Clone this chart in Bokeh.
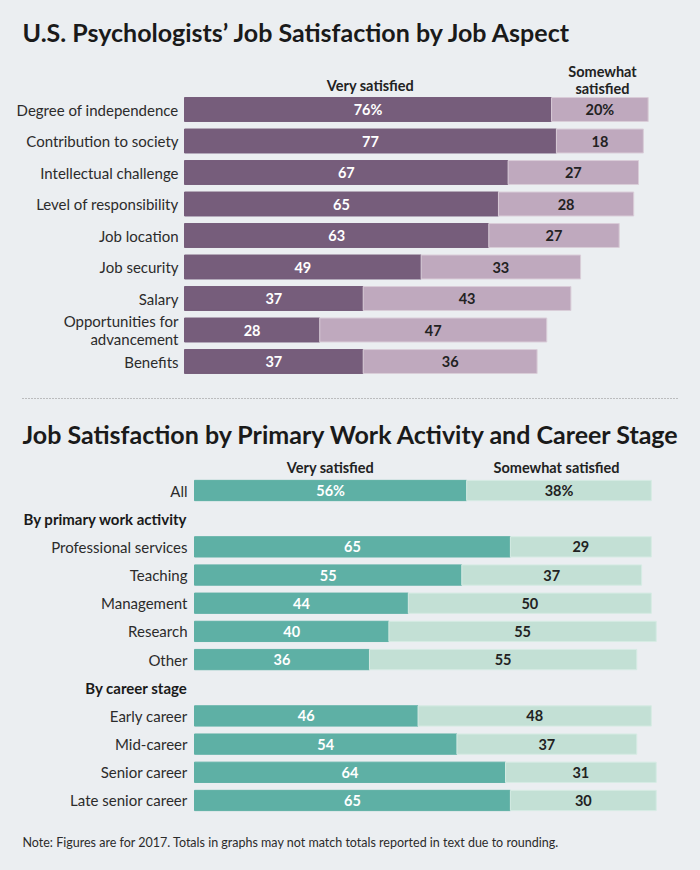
from bokeh.plotting import figure
from bokeh.layouts import column
from bokeh.models import ColumnDataSource, Label, Range1d, GlobalInlineStyleSheet
from bokeh.core.properties import value
from bokeh.embed import file_html
from bokeh.resources import INLINE

# ---------------- data ----------------
aspects = ["Degree of independence", "Contribution to society", "Intellectual challenge",
           "Level of responsibility", "Job location", "Job security", "Salary",
           "Opportunities for\nadvancement", "Benefits"]
aspect_very = [76, 77, 67, 65, 63, 49, 37, 28, 37]
aspect_some = [20, 18, 27, 28, 27, 33, 43, 47, 36]

overall_label = ["All"]
overall_very = [56]
overall_some = [38]

group_names = ["By primary work activity", "By career stage"]
activity = ["Professional services", "Teaching", "Management", "Research", "Other"]
activity_very = [65, 55, 44, 40, 36]
activity_some = [29, 37, 50, 55, 55]
stage = ["Early career", "Mid-career", "Senior career", "Late senior career"]
stage_very = [46, 54, 64, 65]
stage_some = [48, 37, 31, 30]

title1 = "U.S. Psychologists\u2019 Job Satisfaction by Job Aspect"
title2 = "Job Satisfaction by Primary Work Activity and Career Stage"
note = "Note: Figures are for 2017. Totals in graphs may not match totals reported in text due to rounding."

# ---------------- style ----------------
FONT = "Lato"
BG = "#ebeef1"
PURPLE = "#765d7b"
PURPLE_L = "#bfa9be"
TEAL = "#5eb0a5"
TEAL_L = "#c3e0d5"
TXT = "#222222"
W = 700
LBL = "15px"
VAL = "14.5px"
HDR = "14.5px"
TTL = "25px"


def base_fig(h, xr, yr):
    p = figure(width=W, height=h, x_range=xr, y_range=yr, output_backend="svg",
               toolbar_location=None, min_border=0, background_fill_color=BG,
               border_fill_color=BG, outline_line_color=None)
    p.axis.visible = False
    p.grid.visible = False
    return p


def fmt(vals, first_pct=True):
    return [f"{v}%" if (i == 0 and first_pct) else f"{v}" for i, v in enumerate(vals)]


# ---------------- top chart ----------------
H1 = 408
x0_1, k1 = 184, 4.83        # px where 0 lies, px per unit
row0_1, step1 = 109, 31.5
p1 = base_fig(H1, Range1d(-x0_1 / k1, (W - x0_1) / k1),
              Range1d((H1 - row0_1) / step1, -row0_1 / step1))


def tx1(px):
    return (px - x0_1) / k1


def ty1(py):
    return (py - row0_1) / step1


ys1 = list(range(len(aspects)))
tot1 = [a + b for a, b in zip(aspect_very, aspect_some)]
src1 = ColumnDataSource(dict(
    y=ys1, name=aspects, very=aspect_very, total=tot1,
    mv=[v / 2 for v in aspect_very],
    ms=[v + s / 2 for v, s in zip(aspect_very, aspect_some)],
    lv=fmt(aspect_very), ls=fmt(aspect_some)))
p1.hbar(y="y", left=0, right="very", height=0.76, color=PURPLE, source=src1)
p1.hbar(y="y", left="very", right="total", height=0.76, fill_color=PURPLE_L,
        line_color="#d9cdd8", line_width=1, source=src1)
p1.text(x="mv", y="y", text="lv", text_align="center", text_baseline="middle",
        text_color="white", text_font=value(FONT), text_font_style="bold",
        text_font_size=VAL, source=src1)
p1.text(x="ms", y="y", text="ls", text_align="center", text_baseline="middle",
        text_color=TXT, text_font=value(FONT), text_font_style="bold",
        text_font_size=VAL, source=src1)
p1.text(x=0, y="y", text="name", x_offset=-6, text_align="right", text_baseline="middle",
        text_color="#2b2b2b", text_font=value(FONT), text_font_size=LBL,
        text_line_height=1.0, source=src1)

p1.add_layout(Label(x=tx1(22), y=ty1(31), text=title1, text_baseline="middle",
                    text_font=FONT, text_font_style="bold", text_font_size=TTL,
                    text_color="#1a1a1a"))
p1.add_layout(Label(x=tx1(370), y=ty1(85), text="Very satisfied", text_align="center",
                    text_baseline="middle", text_font=FONT, text_font_style="bold",
                    text_font_size=HDR, text_color=TXT))
p1.add_layout(Label(x=tx1(602), y=ty1(79), text="Somewhat\nsatisfied", text_align="center",
                    text_baseline="middle", text_font=FONT, text_font_style="bold",
                    text_font_size=HDR, text_color=TXT, text_line_height=1.0))
p1.segment(x0=tx1(22), y0=ty1(398), x1=tx1(678), y1=ty1(398), line_dash="1 2",
           line_color="#8a8a8a", line_width=1)

# ---------------- bottom chart ----------------
TOP2 = H1
H2 = 870 - H1
x0_2, k2 = 194, 4.86
row0_2, step2 = 490 - TOP2, 28.18
p2 = base_fig(H2, Range1d(-x0_2 / k2, (W - x0_2) / k2),
              Range1d((H2 - row0_2) / step2, -row0_2 / step2))


def tx2(px):
    return (px - x0_2) / k2


def ty2(py):
    return (py - TOP2 - row0_2) / step2


# rows: overall, then each group with a header row
names2, very2, some2, ys2, head_y = [], [], [], [], []
slot = 0
for n, v, s in zip(overall_label, overall_very, overall_some):
    names2.append(n); very2.append(v); some2.append(s); ys2.append(slot); slot += 1
for g, (ns, vs, ss) in zip(group_names, [(activity, activity_very, activity_some),
                                         (stage, stage_very, stage_some)]):
    head_y.append(slot); slot += 1
    for n, v, s in zip(ns, vs, ss):
        names2.append(n); very2.append(v); some2.append(s); ys2.append(slot); slot += 1

src2 = ColumnDataSource(dict(
    y=ys2, name=names2, very=very2, total=[a + b for a, b in zip(very2, some2)],
    mv=[v / 2 for v in very2], ms=[v + s / 2 for v, s in zip(very2, some2)],
    lv=fmt(very2), ls=fmt(some2)))
p2.hbar(y="y", left=0, right="very", height=0.72, color=TEAL, source=src2)
p2.hbar(y="y", left="very", right="total", height=0.72, fill_color=TEAL_L,
        line_color="#d6ebe4", line_width=1, source=src2)
p2.text(x="mv", y="y", text="lv", text_align="center", text_baseline="middle",
        text_color="white", text_font=value(FONT), text_font_style="bold",
        text_font_size=VAL, source=src2)
p2.text(x="ms", y="y", text="ls", text_align="center", text_baseline="middle",
        text_color=TXT, text_font=value(FONT), text_font_style="bold",
        text_font_size=VAL, source=src2)
p2.text(x=0, y="y", text="name", x_offset=-7, text_align="right", text_baseline="middle",
        text_color="#2b2b2b", text_font=value(FONT), text_font_size=LBL, source=src2)
src2h = ColumnDataSource(dict(y=head_y, name=group_names))
p2.text(x=0, y="y", text="name", x_offset=-7, text_align="right", text_baseline="middle",
        text_color="#1a1a1a", text_font=value(FONT), text_font_style="bold",
        text_font_size=LBL, source=src2h)

p2.add_layout(Label(x=tx2(22), y=ty2(433), text=title2, text_baseline="middle",
                    text_font=FONT, text_font_style="bold", text_font_size=TTL,
                    text_color="#1a1a1a"))
p2.add_layout(Label(x=tx2(330), y=ty2(467), text="Very satisfied", text_align="center",
                    text_baseline="middle", text_font=FONT, text_font_style="bold",
                    text_font_size=HDR, text_color=TXT))
p2.add_layout(Label(x=tx2(556), y=ty2(467), text="Somewhat satisfied", text_align="center",
                    text_baseline="middle", text_font=FONT, text_font_style="bold",
                    text_font_size=HDR, text_color=TXT))
p2.add_layout(Label(x=tx2(22), y=ty2(842), text=note, text_baseline="middle",
                    text_font=FONT, text_font_size="12.5px", text_color="#2b2b2b"))

layout = column(p1, p2, spacing=0,
                stylesheets=[GlobalInlineStyleSheet(css="body{background:#ebeef1;}")])

open("out.html", "w").write(file_html(layout, INLINE))
